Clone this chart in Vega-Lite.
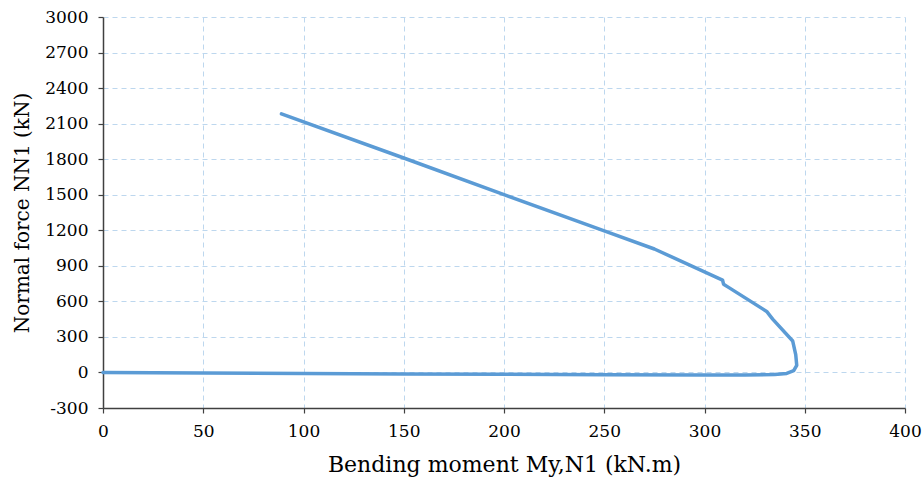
{
  "$schema": "https://vega.github.io/schema/vega-lite/v6.json",
  "autosize": "none",
  "width": 802,
  "height": 391,
  "padding": {"left": 103, "top": 17, "right": 17, "bottom": 77},
  "background": "white",
  "config": {
    "view": {"stroke": null},
    "font": "DejaVu Serif",
    "axis": {"labelFont": "DejaVu Serif", "titleFont": "DejaVu Serif"}
  },
  "data": {
    "values": [
      {"i": 0, "M": 89, "N": 2182},
      {"i": 1, "M": 150, "N": 1810},
      {"i": 2, "M": 200, "N": 1500},
      {"i": 3, "M": 250, "N": 1195},
      {"i": 4, "M": 275, "N": 1042},
      {"i": 5, "M": 309, "N": 780},
      {"i": 6, "M": 309.5, "N": 745},
      {"i": 7, "M": 312, "N": 718},
      {"i": 8, "M": 331, "N": 515},
      {"i": 9, "M": 334, "N": 450},
      {"i": 10, "M": 344, "N": 265},
      {"i": 11, "M": 345.5, "N": 150},
      {"i": 12, "M": 346, "N": 60},
      {"i": 13, "M": 344.5, "N": 15},
      {"i": 14, "M": 341, "N": -8},
      {"i": 15, "M": 335, "N": -18},
      {"i": 16, "M": 320, "N": -21},
      {"i": 17, "M": 300, "N": -21},
      {"i": 18, "M": 250, "N": -19},
      {"i": 19, "M": 200, "N": -16},
      {"i": 20, "M": 150, "N": -12},
      {"i": 21, "M": 100, "N": -8},
      {"i": 22, "M": 50, "N": -4},
      {"i": 23, "M": 0, "N": 0}
    ]
  },
  "mark": {"type": "line", "color": "#5B9BD5", "strokeWidth": 3.5, "interpolate": "linear", "strokeJoin": "round", "strokeCap": "round"},
  "encoding": {
    "order": {"field": "i", "type": "quantitative"},
    "x": {
      "field": "M",
      "type": "quantitative",
      "scale": {"domain": [0, 400], "nice": false, "zero": false},
      "axis": {
        "values": [0, 50, 100, 150, 200, 250, 300, 350, 400],
        "labelExpr": "toString(datum.value)",
        "title": "Bending moment My,N1 (kN.m)",
        "titleFont": "DejaVu Serif",
        "titleFontSize": 22,
        "titleFontWeight": "normal",
        "titleColor": "#000000",
        "titlePadding": 15,
        "labelFont": "DejaVu Serif",
        "labelFontSize": 17,
        "labelColor": "#000000",
        "labelPadding": 10,
        "labelFlush": false,
        "domainColor": "#404040",
        "domainWidth": 1.5,
        "tickColor": "#404040",
        "tickSize": 5,
        "tickWidth": 1.2,
        "grid": true,
        "gridColor": "#BDD7EE",
        "gridDash": [5, 4],
        "gridWidth": 1
      }
    },
    "y": {
      "field": "N",
      "type": "quantitative",
      "scale": {"domain": [-300, 3000], "nice": false, "zero": false},
      "axis": {
        "values": [-300, 0, 300, 600, 900, 1200, 1500, 1800, 2100, 2400, 2700, 3000],
        "labelExpr": "toString(datum.value)",
        "title": "Normal force NN1 (kN)",
        "titleFont": "DejaVu Serif",
        "titleFontSize": 20,
        "titleFontWeight": "normal",
        "titleColor": "#000000",
        "titlePadding": 12,
        "labelFont": "DejaVu Serif",
        "labelFontSize": 17,
        "labelColor": "#000000",
        "labelPadding": 10,
        "labelFlush": false,
        "domainColor": "#404040",
        "domainWidth": 1.5,
        "tickColor": "#404040",
        "tickSize": 5,
        "tickWidth": 1.2,
        "grid": true,
        "gridColor": "#BDD7EE",
        "gridDash": [5, 4],
        "gridWidth": 1
      }
    }
  }
}
